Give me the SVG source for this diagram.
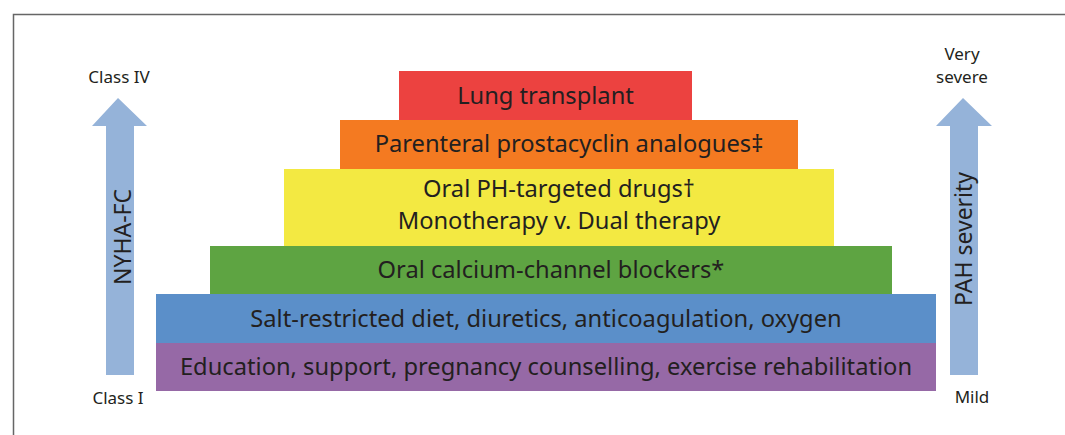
<svg xmlns="http://www.w3.org/2000/svg" width="1065" height="435" viewBox="0 0 1065 435">
<style>
.t{font-family:"Noto Sans","Open Sans","Liberation Sans",sans-serif;fill:#231f20;text-anchor:middle}
.b{font-size:23.7px}
.r{font-size:23px}
.s{font-size:17px}
.ax{fill:#95b3d9}
</style>
<rect width="1065" height="435" fill="#ffffff"/>
<path d="M13.5 435 V14.5 H1065" fill="none" stroke="#666666" stroke-width="1.5"/>
<g id="arrow-nyha">
<polygon class="ax" points="118,98 147,126 134,126 134,375 106,375 106,126 92,126"/>
<text class="t r" transform="translate(131,237) rotate(-90)">NYHA-FC</text>
</g>
<g id="arrow-pah">
<polygon class="ax" points="963,98 992,126 978,126 978,375 950,375 950,126 936,126"/>
<text class="t r" transform="translate(972,239) rotate(-90)">PAH severity</text>
</g>
<g id="label-class4"><text class="t s" x="119" y="83">Class IV</text></g>
<g id="label-class1"><text class="t s" x="118" y="404">Class I</text></g>
<g id="label-verysevere"><text class="t s" x="962" y="60">Very</text><text class="t s" x="962" y="83">severe</text></g>
<g id="label-mild"><text class="t s" x="972" y="403">Mild</text></g>
<g id="tier-lung">
<rect x="399" y="71" width="293" height="49" fill="#ec4240"/>
<text class="t b" x="545.5" y="104">Lung transplant</text>
</g>
<g id="tier-prostacyclin">
<rect x="340" y="120" width="458" height="49" fill="#f47a21"/>
<text class="t b" x="569" y="152">Parenteral prostacyclin analogues‡</text>
</g>
<g id="tier-oral-ph">
<rect x="284" y="169" width="550" height="77" fill="#f3e942"/>
<text class="t b" x="559" y="197">Oral PH-targeted drugs†</text>
<text class="t b" x="559" y="229">Monotherapy v. Dual therapy</text>
</g>
<g id="tier-ccb">
<rect x="210" y="246" width="682" height="49" fill="#5ea442"/>
<text class="t b" x="551" y="278">Oral calcium-channel blockers*</text>
</g>
<g id="tier-salt">
<rect x="156" y="294" width="780" height="49" fill="#5b8fc9"/>
<text class="t b" x="546" y="327">Salt-restricted diet, diuretics, anticoagulation, oxygen</text>
</g>
<g id="tier-education">
<rect x="156" y="343" width="780" height="48" fill="#9669a6"/>
<text class="t b" x="546" y="375">Education, support, pregnancy counselling, exercise rehabilitation</text>
</g>
<g id="connectors"></g>
</svg>
